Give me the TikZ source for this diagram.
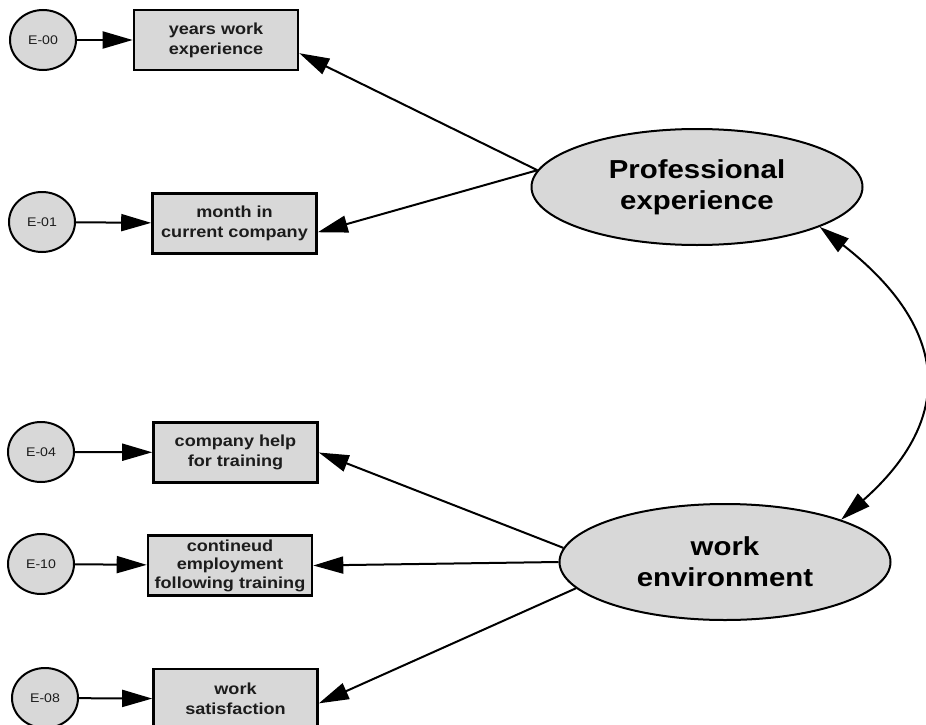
\documentclass[tikz,border=0pt]{standalone}
\usepackage{fontspec}
\setmainfont{Liberation Sans}[FakeStretch=1.13]
\usetikzlibrary{arrows.meta,shapes.geometric}
\definecolor{nodefill}{RGB}{216,216,216}
\definecolor{inktext}{RGB}{28,28,28}
\begin{document}
\begin{tikzpicture}[x=1pt,y=-1pt,
  errnode/.style={ellipse, draw, line width=2pt, fill=nodefill, minimum width=66pt,
    minimum height=60pt, inner sep=0pt, text=inktext, font=\fontsize{12.5}{14}\selectfont},
  obsnode/.style={rectangle, draw, line width=2.6pt, fill=nodefill, minimum width=164pt,
    minimum height=60pt, inner sep=0pt, align=center, text=inktext,
    font=\fontsize{16}{20}\selectfont\bfseries},
  latnode/.style={ellipse, draw, line width=2pt, fill=nodefill, minimum width=331pt,
    minimum height=116pt, inner sep=0pt, align=center, text=black,
    font=\fontsize{26}{31}\selectfont\bfseries},
  bigtip/.tip={Triangle[length=30pt,width=17pt]},
  link/.style={line width=2pt, -bigtip},
  covar/.style={line width=2pt, bigtip-bigtip},
]
\fill[white] (0,0) rectangle (926,725);
\useasboundingbox (0,0) rectangle (926,725);

% error terms
\node[errnode] (e00) at (43,40) {E-00};
\node[errnode] (e01) at (42,222) {E-01};
\node[errnode] (e04) at (41,452) {E-04};
\node[errnode] (e10) at (41,564) {E-10};
\node[errnode] (e08) at (45,698) {E-08};

% observed variables
\node[obsnode] (b1) at (216,40) {years work\\experience};
\node[obsnode] (b2) at (234.5,223.5) {month in\\current company};
\node[obsnode] (b3) at (235.5,452.5) {company help\\for training};
\node[obsnode, font=\fontsize{16}{18.5}\selectfont\bfseries] (b4) at (230,565.5)
  {contineud\\employment\\following training};
\node[obsnode] (b5) at (235.5,699) {work\\satisfaction};

% latent variables
\node[latnode] (pe) at (697,187) {Professional\\experience};
\node[latnode] (we) at (725,562) {work\\environment};

% error paths
\draw[link] (e00) -- (b1);
\draw[link] (e01) -- (b2);
\draw[link] (e04) -- (b3);
\draw[link] (e10) -- (b4);
\draw[link] (e08) -- (b5);

% loadings
\draw[link] (pe.174) -- (b1.-9);
\draw[link] (pe.174) -- (b2.-6);
\draw[link] (we.175) -- (b3.east);
\draw[link] (we.180) -- (b4.east);
\draw[link] (we.190) -- (b5.-3);

% covariance
\draw[covar] (pe.-18) .. controls +(132,103) and +(113,-100) .. (we.20);
\end{tikzpicture}
\end{document}
